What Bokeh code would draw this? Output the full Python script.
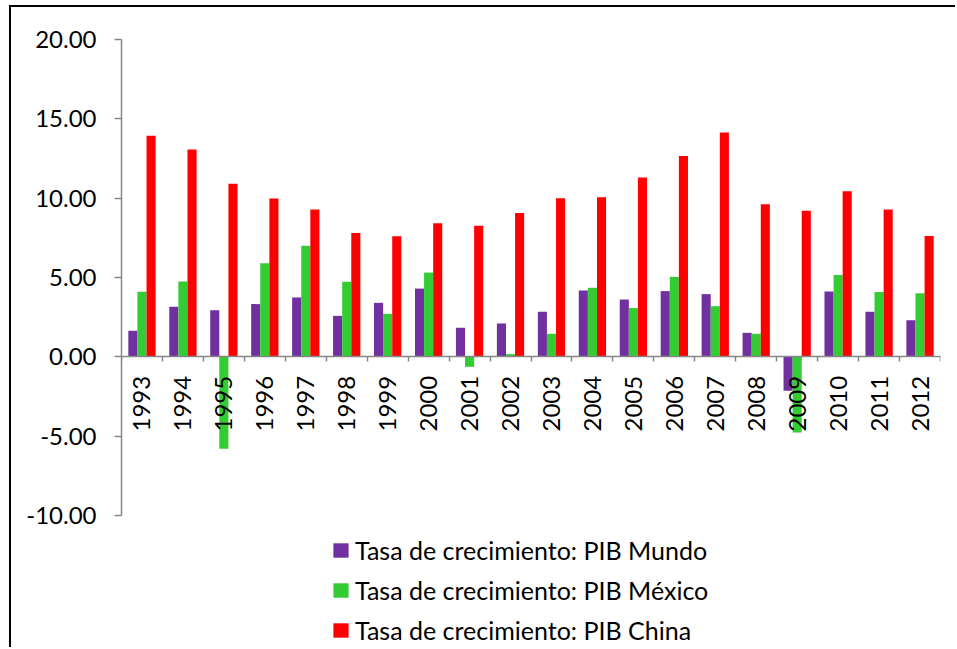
import math
from bokeh.plotting import figure
from bokeh.models import ColumnDataSource, Range1d, FixedTicker, LinearAxis, NumeralTickFormatter
from bokeh.transform import dodge
from bokeh.embed import file_html
from bokeh.resources import INLINE

years = [str(y) for y in range(1993, 2013)]
mundo = [1.64, 3.15, 2.94, 3.32, 3.74, 2.58, 3.40, 4.30, 1.83, 2.10,
         2.84, 4.18, 3.61, 4.14, 3.95, 1.51, -2.14, 4.12, 2.84, 2.31]
mexico = [4.10, 4.75, -5.80, 5.90, 7.00, 4.73, 2.71, 5.31, -0.63, 0.17,
          1.45, 4.35, 3.07, 5.04, 3.19, 1.45, -4.77, 5.15, 4.08, 4.01]
china = [13.93, 13.07, 10.90, 9.98, 9.28, 7.81, 7.60, 8.42, 8.26, 9.07,
         10.00, 10.06, 11.30, 12.65, 14.14, 9.62, 9.20, 10.44, 9.28, 7.62]
y_ticks = [-10, -5, 0, 5, 10, 15, 20]
series_labels = ["Tasa de crecimiento: PIB Mundo",
                 "Tasa de crecimiento: PIB México",
                 "Tasa de crecimiento: PIB China"]
colors = ["#7030A0", "#33CC33", "#FF0000"]

FONT = "Lato"
AXIS_COLOR = "#868686"

x_centers = [i + 0.5 for i in range(len(years))]
src = ColumnDataSource(dict(x=x_centers, year=years, mundo=mundo, mexico=mexico, china=china))

p = figure(width=946, height=642,
           x_range=Range1d(0, len(years)), y_range=Range1d(-18.45, 20),
           output_backend="svg", toolbar_location=None,
           min_border_left=110, min_border_right=17, min_border_top=32, min_border_bottom=0,
           x_axis_type=None, y_axis_type=None)
p.outline_line_color = None
p.xgrid.visible = False
p.ygrid.visible = False
p.styles = {"margin-left": "9px", "margin-top": "5px",
            "border-left": "2px solid #000000", "border-top": "2px solid #000000"}

bw = 1 / 4.5
for field, off, col, lab in zip(["mundo", "mexico", "china"], [-bw, 0, bw], colors, series_labels):
    p.vbar(x=dodge("x", off, range=p.x_range), top=field, bottom=0, width=bw, source=src,
           fill_color=col, line_color=None, legend_label=lab)

# y axis
yaxis = LinearAxis(ticker=FixedTicker(ticks=y_ticks), formatter=NumeralTickFormatter(format="0.00"),
                   bounds=(-10, 20))
yaxis.axis_line_color = AXIS_COLOR
yaxis.axis_line_width = 1.5
yaxis.major_tick_line_color = AXIS_COLOR
yaxis.major_tick_line_width = 1.5
yaxis.major_tick_in = 0
yaxis.major_tick_out = 7
yaxis.minor_tick_line_color = None
yaxis.major_label_standoff = 18
yaxis.major_label_text_font = FONT
yaxis.major_label_text_font_size = "24px"
yaxis.major_label_text_color = "#000000"
p.add_layout(yaxis, "left")

# x axis line and boundary ticks
xticks_axis = LinearAxis(ticker=FixedTicker(ticks=list(range(len(years) + 1))), fixed_location=0)
xticks_axis.axis_line_color = AXIS_COLOR
xticks_axis.axis_line_width = 1.5
xticks_axis.major_tick_line_color = AXIS_COLOR
xticks_axis.major_tick_line_width = 1.5
xticks_axis.major_tick_in = 0
xticks_axis.major_tick_out = 5
xticks_axis.minor_tick_line_color = None
xticks_axis.major_label_text_color = None
p.add_layout(xticks_axis, "below")

# year labels
xlab_axis = LinearAxis(ticker=FixedTicker(ticks=x_centers),
                       major_label_overrides={x: y for x, y in zip(x_centers, years)},
                       fixed_location=0)
xlab_axis.axis_line_color = None
xlab_axis.major_tick_line_color = None
xlab_axis.minor_tick_line_color = None
xlab_axis.major_tick_in = 0
xlab_axis.major_tick_out = 0
xlab_axis.major_label_standoff = 19
xlab_axis.major_label_orientation = math.pi / 2
xlab_axis.major_label_text_font = FONT
xlab_axis.major_label_text_font_size = "24px"
xlab_axis.major_label_text_color = "#000000"
p.add_layout(xlab_axis, "below")

leg = p.legend[0]
leg.location = (210, 4.5)
leg.border_line_color = None
leg.background_fill_alpha = 0
leg.padding = 0
leg.margin = 0
leg.spacing = 10
leg.glyph_width = 19
leg.glyph_height = 18
leg.label_height = 30
leg.label_standoff = 5
leg.label_text_font = FONT
leg.label_text_font_size = "25px"
leg.label_text_color = "#000000"

open("out.html", "w").write(file_html(p, INLINE))
